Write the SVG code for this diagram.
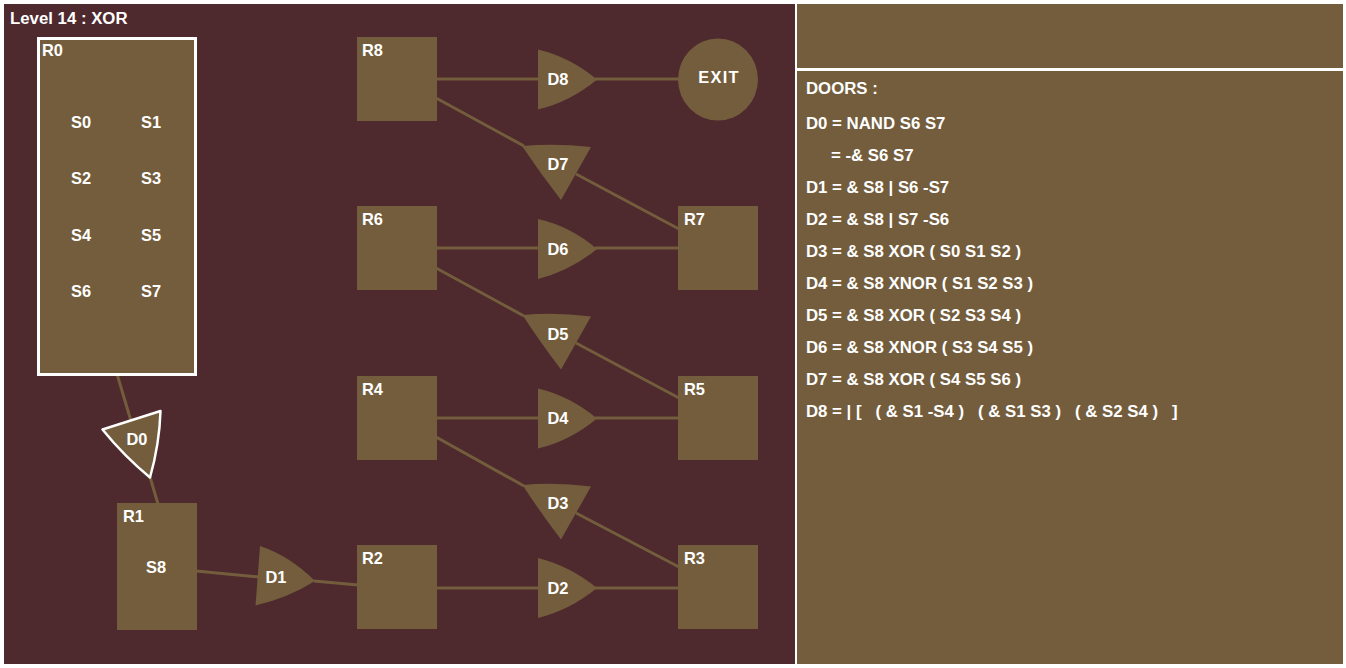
<svg xmlns="http://www.w3.org/2000/svg" width="1346" height="668" viewBox="0 0 1346 668">
  <style>
    text { font-family: "Liberation Sans", Arial, sans-serif; font-weight: bold; fill: #ffffff; font-size: 16.4px; }
    .mid { text-anchor: middle; }
    .title { font-size: 16.8px; }
    .panel { font-size: 16.8px; white-space: pre; }
    .room { fill: #735D3D; }
    .door { fill: #735D3D; }
    .sel { stroke: #ffffff; stroke-width: 3; }
    .doorsel { stroke: #ffffff; stroke-width: 2.5; stroke-linejoin: round; }
    .wire { stroke: #735D3D; stroke-width: 3; fill: none; }
  </style>

  <!-- backdrop -->
  <rect x="0" y="0" width="1346" height="668" fill="#ffffff"/>
  <rect x="4" y="4" width="791" height="660" fill="#4E292D"/>
  <rect x="797" y="4" width="546" height="64" fill="#735D3D"/>
  <rect x="797" y="71" width="546" height="593" fill="#735D3D"/>

  <text class="title" x="10" y="24">Level 14 : XOR</text>

  <!-- connectors -->
  <g id="connectors">
    <line class="wire" x1="117" y1="374" x2="131" y2="421"/>
    <line class="wire" x1="150" y1="477" x2="158" y2="504"/>
    <line class="wire" x1="196" y1="571" x2="259" y2="577"/>
    <line class="wire" x1="314" y1="581" x2="358" y2="585"/>
    <line class="wire" x1="436" y1="588" x2="540" y2="588"/>
    <line class="wire" x1="595" y1="588" x2="679" y2="588"/>
    <line class="wire" x1="436" y1="437" x2="524" y2="486"/>
    <line class="wire" x1="576" y1="513" x2="679" y2="567"/>
    <line class="wire" x1="436" y1="418" x2="540" y2="418"/>
    <line class="wire" x1="595" y1="418" x2="679" y2="418"/>
    <line class="wire" x1="436" y1="268" x2="524" y2="316"/>
    <line class="wire" x1="576" y1="343" x2="679" y2="398"/>
    <line class="wire" x1="436" y1="248" x2="540" y2="248"/>
    <line class="wire" x1="595" y1="248" x2="679" y2="248"/>
    <line class="wire" x1="436" y1="98" x2="524" y2="146"/>
    <line class="wire" x1="576" y1="174" x2="679" y2="229"/>
    <line class="wire" x1="436" y1="79" x2="540" y2="79"/>
    <line class="wire" x1="595" y1="79" x2="679" y2="79"/>
  </g>

  <!-- rooms -->
  <g id="R0">
    <rect class="room sel" x="38.5" y="38.5" width="157" height="336"/>
    <text x="42" y="56">R0</text>
    <text x="71" y="128">S0</text>
    <text x="141" y="128">S1</text>
    <text x="71" y="184">S2</text>
    <text x="141" y="184">S3</text>
    <text x="71" y="241">S4</text>
    <text x="141" y="241">S5</text>
    <text x="71" y="297">S6</text>
    <text x="141" y="297">S7</text>
  </g>
  <g id="R1">
    <rect class="room" x="117" y="503" width="80" height="127"/>
    <text x="123" y="522">R1</text>
    <text x="146" y="573">S8</text>
  </g>
  <g id="R2">
    <rect class="room" x="357" y="545" width="80" height="84"/>
    <text x="362" y="564">R2</text>
  </g>
  <g id="R3">
    <rect class="room" x="678" y="545" width="80" height="84"/>
    <text x="684" y="564">R3</text>
  </g>
  <g id="R4">
    <rect class="room" x="357" y="376" width="80" height="84"/>
    <text x="362" y="395">R4</text>
  </g>
  <g id="R5">
    <rect class="room" x="678" y="376" width="80" height="84"/>
    <text x="684" y="395">R5</text>
  </g>
  <g id="R6">
    <rect class="room" x="357" y="206" width="80" height="84"/>
    <text x="362" y="225">R6</text>
  </g>
  <g id="R7">
    <rect class="room" x="678" y="206" width="80" height="84"/>
    <text x="684" y="225">R7</text>
  </g>
  <g id="R8">
    <rect class="room" x="357" y="37" width="80" height="84"/>
    <text x="362" y="56">R8</text>
  </g>
  <g id="EXIT">
    <ellipse class="room" cx="718" cy="79.5" rx="40" ry="41"/>
    <text class="mid" x="719" y="83" letter-spacing="1.3">EXIT</text>
  </g>

  <!-- doors -->
  <g id="D0">
    <path class="door doorsel" d="M102.5,429.5 L160.5,411 Q159.5,444 150,477.5 Q124,456 102.5,429.5 Z"/>
    <text class="mid" x="137" y="445">D0</text>
  </g>
  <g id="D1">
    <path class="door" d="M260,546 Q290,556 315,581 Q288,598 255.5,605.5 Z"/>
    <text class="mid" x="276" y="583">D1</text>
  </g>
  <g id="D2">
    <path class="door" d="M538,558 Q570,566 597,588 Q570,610 538,618 Z"/>
    <text class="mid" x="558" y="594">D2</text>
  </g>
  <g id="D3">
    <path class="door" d="M522.5,485 Q556,482 591,486.5 L561,539.5 Q540,512 522.5,485 Z"/>
    <text class="mid" x="558" y="509">D3</text>
  </g>
  <g id="D4">
    <path class="door" d="M538,388.5 Q570,396 597,418.5 Q570,441 538,448.5 Z"/>
    <text class="mid" x="558" y="424">D4</text>
  </g>
  <g id="D5">
    <path class="door" d="M522.5,315 Q556,312 591,316.5 L561,369.5 Q540,342 522.5,315 Z"/>
    <text class="mid" x="558" y="340">D5</text>
  </g>
  <g id="D6">
    <path class="door" d="M538,219 Q570,226 597,249 Q570,271 538,279 Z"/>
    <text class="mid" x="558" y="255">D6</text>
  </g>
  <g id="D7">
    <path class="door" d="M522,146 Q556,143 591,147 L561,200 Q540,173 522,146 Z"/>
    <text class="mid" x="558" y="170">D7</text>
  </g>
  <g id="D8">
    <path class="door" d="M538,49.5 Q570,57 597,79.5 Q570,102 538,109.5 Z"/>
    <text class="mid" x="558" y="85">D8</text>
  </g>

  <!-- door equations -->
  <g id="doors-panel">
    <text class="panel" x="806" y="94">DOORS :</text>
    <text class="panel" x="806" y="129">D0 = NAND S6 S7</text>
    <text class="panel" x="831" y="161">= -&amp; S6 S7</text>
    <text class="panel" x="806" y="193">D1 = &amp; S8 | S6 -S7</text>
    <text class="panel" x="806" y="225">D2 = &amp; S8 | S7 -S6</text>
    <text class="panel" x="806" y="257">D3 = &amp; S8 XOR ( S0 S1 S2 )</text>
    <text class="panel" x="806" y="289">D4 = &amp; S8 XNOR ( S1 S2 S3 )</text>
    <text class="panel" x="806" y="321">D5 = &amp; S8 XOR ( S2 S3 S4 )</text>
    <text class="panel" x="806" y="353">D6 = &amp; S8 XNOR ( S3 S4 S5 )</text>
    <text class="panel" x="806" y="385">D7 = &amp; S8 XOR ( S4 S5 S6 )</text>
    <text class="panel" x="806" y="417">D8 = | [   ( &amp; S1 -S4 )   ( &amp; S1 S3 )   ( &amp; S2 S4 )   ]</text>
  </g>
</svg>
